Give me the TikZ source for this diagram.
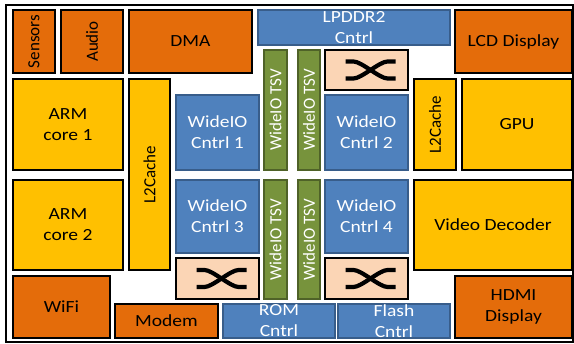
\documentclass[tikz,border=0pt]{standalone}
\usepackage{fontspec}
\setmainfont{Carlito}[FakeStretch=1.15]
\newfontfamily\uprightfont{Carlito}
\definecolor{socorange}{HTML}{E46C0A}
\definecolor{socgold}{HTML}{FFC000}
\definecolor{socblue}{HTML}{4F81BD}
\definecolor{socbluedark}{HTML}{385D8A}
\definecolor{socgreen}{HTML}{77933C}
\definecolor{socgreendark}{HTML}{4F6228}
\definecolor{socpeach}{HTML}{FBD5B5}

\begin{document}
\begin{tikzpicture}[x=1pt,y=-1pt,
  blk/.style={draw, line width=2pt, inner sep=0pt, align=center, font=\fontsize{17}{21}\selectfont},
  vertblk/.style={rotate=90, font=\uprightfont\fontsize{17}{21}\selectfont},
  orangeblk/.style={blk, fill=socorange},
  goldblk/.style={blk, fill=socgold},
  blueblk/.style={blk, draw=socbluedark, fill=socblue, text=white},
  tsvblk/.style={blk, vertblk, draw=socgreendark, fill=socgreen, text=white,
                 minimum width=119, minimum height=22},
  xbarblk/.style={blk, fill=socpeach, minimum width=83, minimum height=40},
  crossline/.style={line width=4.2pt}]
  \useasboundingbox (0,0) rectangle (574,344);
  \draw[line width=2pt] (6,5) rectangle (573,342);                       % Chip outline

  % Top row
  \node[orangeblk, vertblk, minimum width=63, minimum height=42] (sensors) at (34,41.5) {Sensors};
  \node[orangeblk, vertblk, minimum width=63, minimum height=62] (audio) at (92,41.5) {Audio};
  \node[orangeblk, minimum width=123, minimum height=63] (dma) at (190.5,41.5) {DMA};
  \node[blueblk, minimum width=192, minimum height=35] (lpddr) at (354,27.5) {LPDDR2\\Cntrl};
  \node[orangeblk, minimum width=117, minimum height=63] (lcd) at (513.5,41.5) {LCD Display};

  % CPU side
  \node[goldblk, minimum width=110, minimum height=91] (arma) at (68,124.5) {ARM\\core 1};
  \node[goldblk, minimum width=110, minimum height=90] (armb) at (68,225) {ARM\\core 2};
  \node[goldblk, vertblk, minimum width=191, minimum height=41] (cpucache) at (149.5,174.5) {L2Cache};

  % WideIO controllers
  \node[blueblk, minimum width=83, minimum height=75] (wioa) at (217.5,132.5) {WideIO\\Cntrl 1};
  \node[blueblk, minimum width=83, minimum height=75] (wiob) at (366.5,132.5) {WideIO\\Cntrl 2};
  \node[blueblk, minimum width=83, minimum height=73] (wioc) at (217.5,216.5) {WideIO\\Cntrl 3};
  \node[blueblk, minimum width=83, minimum height=73] (wiod) at (366.5,216.5) {WideIO\\Cntrl 4};

  % Through silicon vias
  \node[tsvblk, minimum width=120, minimum height=23] (tsva) at (275.5,110) {WideIO TSV};
  \node[tsvblk, minimum width=120] (tsvb) at (309,110) {WideIO TSV};
  \node[tsvblk, minimum height=23] (tsvc) at (275.5,239.5) {WideIO TSV};
  \node[tsvblk] (tsvd) at (309,239.5) {WideIO TSV};

  % Crossbars
  \node[xbarblk] (xbara) at (366.5,70) {};
  \node[xbarblk, minimum height=41] (xbarb) at (217.5,278.5) {};
  \node[xbarblk, minimum height=41] (xbarc) at (366.5,278.5) {};
  \foreach \xb in {xbara,xbarb,xbarc}
    \foreach \s in {1,-1}
      \draw[crossline, shift={(\xb.center)}] (-21,-8.5*\s) -- (-13,-8.5*\s)
        .. controls (-5,-8.5*\s) and (13,8.5*\s) .. (21,8.5*\s) -- (29,8.5*\s);   % Draw crossing

  % GPU side
  \node[goldblk, vertblk, minimum width=91, minimum height=42] (gpucache) at (435,124.5) {L2Cache};
  \node[goldblk, minimum width=110, minimum height=91] (gpu) at (517,124.5) {GPU};
  \node[goldblk, minimum width=158, minimum height=90] (video) at (493,225) {Video Decoder};

  % Bottom row
  \node[orangeblk, minimum width=97, minimum height=62] (wifi) at (61.5,307) {WiFi};
  \node[orangeblk, minimum width=103, minimum height=34] (modem) at (166.5,321) {Modem};
  \node[blueblk, minimum width=112, minimum height=34] (rom) at (279,321) {ROM\\Cntrl};
  \node[blueblk, minimum width=112, minimum height=34] (flash) at (394,321) {Flash\\Cntrl};
  \node[orangeblk, minimum width=117, minimum height=62] (hdmi) at (513.5,307) {HDMI\\Display};
\end{tikzpicture}
\end{document}
